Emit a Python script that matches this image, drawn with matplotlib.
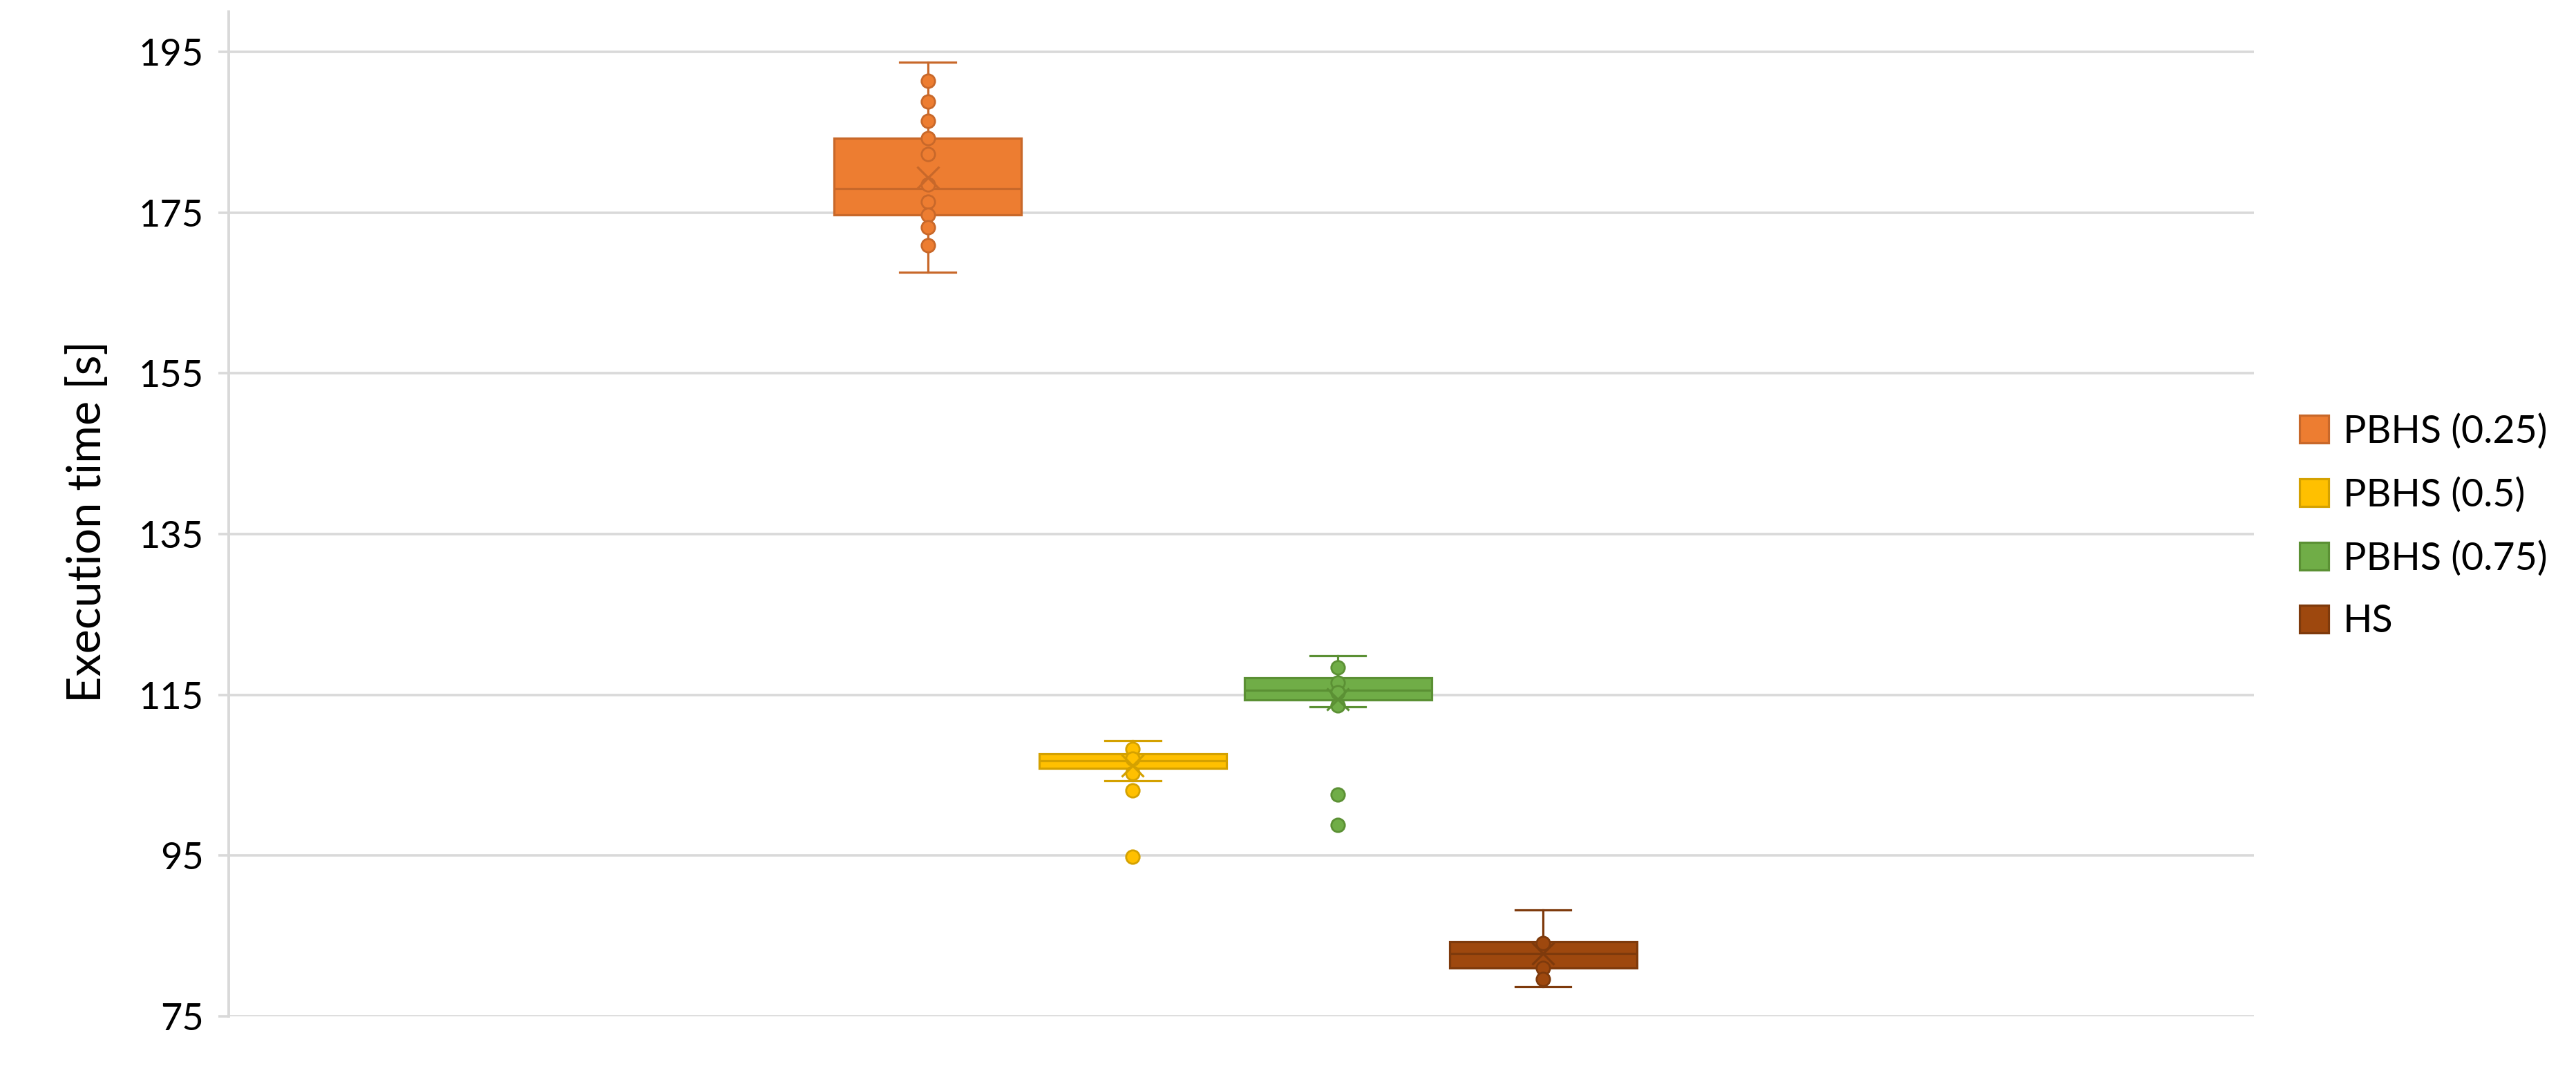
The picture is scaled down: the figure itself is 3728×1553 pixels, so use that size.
import matplotlib
matplotlib.use("Agg")
import matplotlib.pyplot as plt
from matplotlib.patches import Patch

plt.rcParams["font.family"] = ["Lato", "DejaVu Sans"]

labels = ["PBHS (0.25)", "PBHS (0.5)", "PBHS (0.75)", "HS"]
fill_colors = ["#ED7D31", "#FFC000", "#70AD47", "#9E480E"]
edge_colors = ["#C8682A", "#D4A100", "#5B9034", "#7E3A0C"]

# box stats (seconds)
whisker_low = [167.6, 104.3, 113.5, 78.7]
q1 = [174.7, 105.9, 114.4, 81.0]
median = [178.0, 106.8, 115.6, 82.8]
q3 = [184.3, 107.7, 117.1, 84.3]
whisker_high = [193.7, 109.3, 119.9, 88.2]
means = [179.4, 106.2, 114.5, 82.8]

points_025 = [191.4, 188.8, 186.4, 184.3, 182.3, 178.5, 176.4, 174.7, 173.2, 170.9]
points_05 = [108.3, 107.1, 105.3, 103.1, 94.9]
points_075 = [118.4, 116.5, 115.3, 113.7, 102.6, 98.8]
points_hs = [84.1, 81.0, 79.6]
all_points = [points_025, points_05, points_075, points_hs]

yticks = [75, 95, 115, 135, 155, 175, 195]

fig = plt.figure(figsize=(37.28, 15.53), dpi=100)
ax = fig.add_axes([331 / 3728, 1 - 1471 / 1553, (3262 - 331) / 3728, (1471 - 17) / 1553])

grid_col = "#D9D9D9"
positions = list(range(len(labels)))

###boxes
for i in positions:
    stats = [{
        "whislo": whisker_low[i], "q1": q1[i], "med": median[i],
        "q3": q3[i], "whishi": whisker_high[i], "fliers": [],
    }]
    lw = 2.3
    ax.bxp(stats, positions=[i], widths=0.912, capwidths=0.27,
           patch_artist=True, showfliers=False, manage_ticks=False,
           boxprops=dict(facecolor=fill_colors[i], edgecolor=edge_colors[i], linewidth=lw),
           whiskerprops=dict(color=edge_colors[i], linewidth=lw),
           capprops=dict(color=edge_colors[i], linewidth=lw),
           medianprops=dict(color=edge_colors[i], linewidth=lw),
           zorder=3)
    ax.plot([i] * len(all_points[i]), all_points[i], "o", ms=14,
            mfc=fill_colors[i], mec=edge_colors[i], mew=2.0, zorder=4)
    ax.plot([i], [means[i]], "x", ms=23, mec=edge_colors[i], mew=2.3, zorder=5)

###axes
ax.set_xlim(-3.407, 6.465)
ax.set_ylim(75, 200)
ax.set_yticks(yticks)
ax.set_xticks([])
ax.grid(axis="y", color=grid_col, linewidth=2.6, zorder=0)
ax.set_axisbelow(True)
for s in ["top", "right", "bottom"]:
    ax.spines[s].set_visible(False)
ax.spines["left"].set_color(grid_col)
ax.spines["left"].set_linewidth(2.8)
ax.tick_params(axis="y", length=10.8, width=2.6, color=grid_col,
               labelsize=39, pad=15)

ax.set_ylabel("Execution time [s]", fontsize=48)
ax.yaxis.set_label_coords(-0.059, 0.4925)

###legend
handles = [Patch(facecolor=fill_colors[i], edgecolor=edge_colors[i], linewidth=2.3)
           for i in positions]
fig.legend(handles, labels, loc="center left", bbox_to_anchor=(3328 / 3728, 1 - 762 / 1553),
           frameon=False, fontsize=40, handlelength=0.75, handleheight=0.75,
           handletextpad=0.38, labelspacing=0.72, borderpad=0, borderaxespad=0)

fig.savefig("out.png", dpi=100)
